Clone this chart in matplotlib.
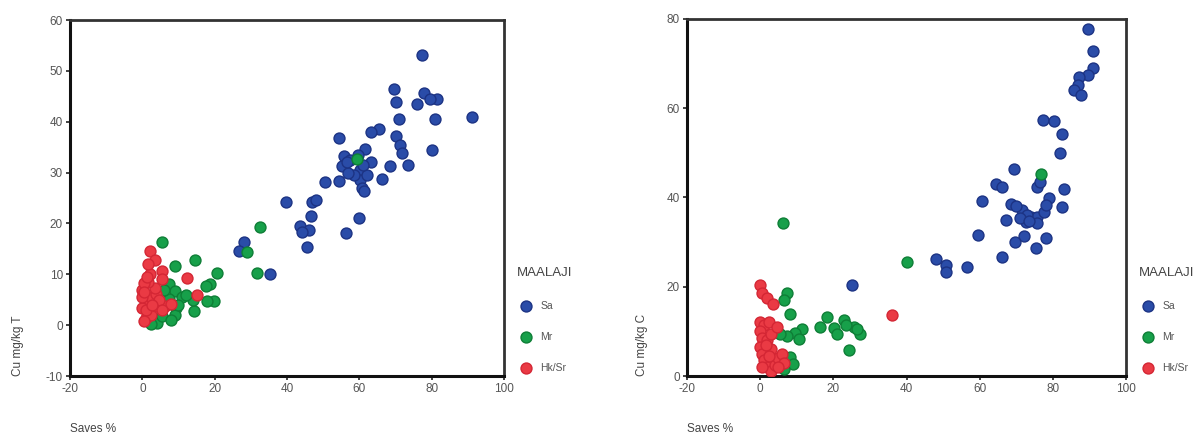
import numpy as np
import matplotlib
matplotlib.use("Agg")
import matplotlib.pyplot as plt

plt.rcParams['font.family'] = ['Liberation Sans', 'DejaVu Sans']
plt.rcParams['axes.unicode_minus'] = False

groups = ["Sa", "Mr", "Hk/Sr"]
colors = {"Sa": "#2a4ca8", "Mr": "#17a04a", "Hk/Sr": "#ea3a44"}
edges = {"Sa": "#1c3384", "Mr": "#0e7e36", "Hk/Sr": "#d42634"}

# Cu mg/kg T vs Saves %
sa_t_x = [77.4, 69.5, 70, 77.8, 76, 81.5, 79.5, 91.2, 80.8, 70.9, 65.4, 63.1, 54.5, 70,
          71.2, 71.8, 80.1, 61.7, 55.7, 57.5, 63.1, 73.5, 68.6, 55.2, 60.3, 66.3, 50.6,
          54.3, 60.3, 60.8, 61.2, 39.6, 46.9, 48, 46.5, 59.8, 43.7, 46, 44.1, 56.2, 45.6,
          28, 26.6, 35.4, 58.5, 57, 62, 59.5, 56.5, 61]
sa_t_y = [53.1, 46.5, 43.9, 45.7, 43.4, 44.4, 44.5, 40.9, 40.5, 40.5, 38.5, 37.9, 36.8, 37.2,
          35.4, 33.9, 34.4, 34.6, 33.3, 32.5, 32.1, 31.4, 31.3, 31.3, 30.6, 28.7, 28.2,
          28.4, 28.6, 27.0, 26.4, 24.2, 24.2, 24.6, 21.5, 21.1, 19.5, 18.8, 18.4, 18.1, 15.4,
          16.3, 14.6, 10, 29.5, 30, 29.5, 33.5, 32, 31.5]
mr_t_x = [59.4, 32.6, 29, 31.7, 5.4, 14.7, 9.1, 20.7, 18.8, 17.7, 19.7, 17.9, 14.2, 13.9,
          9.3, 7.3, 9.1, 6.4, 4.1, 2.3, 5.4, 9.1, 7.3, 11, 8, 6, 12, 10]
mr_t_y = [32.6, 19.2, 14.3, 10.3, 16.3, 12.9, 11.6, 10.3, 8, 7.7, 4.7, 4.7, 2.8, 5,
          3.4, 8, 6.7, 5, 0.5, 0.3, 1.7, 2.0, 5.1, 5.5, 1, 7, 6, 4]
hk_t_x = [2.2, 3.5, 5.4, 12.4, 15.1, 0, 1, 0, 1, 2.3, 3.8, 6.4, 7.9, 2.3, 3.8, 3.5, 1.6,
          5.4, 0.5, 0, 1, 0.5, 2, 1.5, 4.5, 5.5, 0.5, 2.8, 1.2]
hk_t_y = [14.6, 12.9, 10.6, 9.3, 6.0, 7, 5, 3.4, 1.5, 2, 3.8, 3.8, 4.2, 5.6, 6.2, 7.4, 8.5,
          9, 8.2, 5.5, 3, 0.8, 10, 12, 5, 3, 6.5, 4, 9.5]

# Cu mg/kg C vs Saves %
sa_c_x = [89.5, 90.9, 90.9, 89.5, 87.2, 86.8, 85.7, 87.7, 77.2, 80.4, 82.6, 82, 69.4, 75.8,
          64.4, 66.2, 83.1, 79, 82.6, 60.7, 68.5, 71.7, 74, 75.8, 77.6, 72.6, 75.8, 67.1,
          78, 59.5, 72, 69.6, 78.2, 75.5, 66.2, 48.2, 50.7, 56.6, 50.7, 25.1, 73, 71,
          76.5, 73.5, 70]
sa_c_y = [77.7, 72.9, 69.1, 67.4, 67, 65.2, 64.1, 62.9, 57.3, 57.2, 54.2, 50, 46.3, 42.4,
          43.1, 42.4, 41.8, 39.8, 37.9, 39.2, 38.6, 37.2, 35.7, 35.7, 36.8, 34.5, 34.2, 34.9,
          38.3, 31.5, 31.3, 30, 31, 28.7, 26.7, 26.3, 24.8, 24.4, 23.3, 20.3, 36, 35.5,
          43.5, 34.8, 38]
mr_c_x = [76.9, 40.2, 6.2, 7.3, 6.4, 8.2, 18.3, 22.8, 25.6, 16.4, 20.1, 27.4, 21, 24.2,
          11.4, 9.6, 10.5, 8.2, 9.1, 6.4, 7.3, 5.5, 23.5, 26.5]
mr_c_y = [45.2, 25.6, 34.3, 18.5, 17, 14, 13.2, 12.5, 11, 11, 10.7, 9.5, 9.3, 5.8,
          10.6, 9.6, 8.3, 4.3, 2.6, 1.5, 8.9, 9.5, 11.5, 10.5]
hk_c_x = [0, 1, 2.5, 0, 0.5, 0, 0.5, 1, 2, 3, 4, 5, 6, 3, 2, 3, 4.5, 1.5, 2.5, 0.5, 6.5,
          5, 0, 0.5, 2, 3.6, 36.1]
hk_c_y = [12, 11.5, 12, 10, 8.5, 6.5, 5, 3.5, 2, 1.2, 2.5, 4, 5, 6, 8, 9.5, 11, 7, 4.5, 2,
          3, 2, 20.5, 18.5, 17.5, 16.2, 13.6]

panels = [
    ("Cu mg/kg T", (-10, 60), np.arange(-10, 61, 10),
     {"Sa": (sa_t_x, sa_t_y), "Mr": (mr_t_x, mr_t_y), "Hk/Sr": (hk_t_x, hk_t_y)}),
    ("Cu mg/kg C", (0, 80), np.arange(0, 81, 20),
     {"Sa": (sa_c_x, sa_c_y), "Mr": (mr_c_x, mr_c_y), "Hk/Sr": (hk_c_x, hk_c_y)}),
]

W, H = 1201, 436
fig = plt.figure(figsize=(W / 100, H / 100), dpi=100)

# axes boxes in pixels: left, top, right, bottom
boxes = [(70, 20, 504, 376), (687, 19, 1126, 376)]
ylabel_x = [18, 642]
legend_x = [513, 1135]

for (ylab, ylim, yticks, data), (l, t, r, b), yl_x, lg_x in zip(panels, boxes, ylabel_x, legend_x):
    ax = fig.add_axes([l / W, 1 - b / H, (r - l) / W, (b - t) / H])
    for g in groups:
        x, y = data[g]
        ax.scatter(x, y, s=62, c=colors[g], edgecolors=edges[g], linewidths=1.0,
                   label=g, zorder=3)
    ax.set_xlim(-20, 100)
    ax.set_ylim(*ylim)
    ax.set_xticks(np.arange(-20, 101, 20))
    ax.set_yticks(yticks)
    ax.tick_params(direction='out', length=3, width=1.2, color='#222222',
                   labelsize=8.5, labelcolor='#555555', pad=2)
    for side in ['left', 'bottom']:
        ax.spines[side].set_linewidth(2.2)
        ax.spines[side].set_color('#111111')
    for side in ['top', 'right']:
        ax.spines[side].set_linewidth(2.0)
        ax.spines[side].set_color('#333333')

    fig.text(yl_x / W, 1 - b / H, ylab, rotation=90, ha='center', va='bottom',
             fontsize=8.5, color='#444444')
    fig.text(l / W, 1 - 429 / H, "Saves %", ha='left', va='center',
             fontsize=8.5, color='#444444')

    leg = ax.legend(title="MAALAJI", loc='upper left',
                    bbox_to_anchor=(lg_x / W, 1 - 263 / H), bbox_transform=fig.transFigure,
                    frameon=False, fontsize=7.5, title_fontsize=9.5,
                    labelspacing=2.05, handletextpad=0.6, handlelength=1.6,
                    borderaxespad=0, alignment='left', scatterpoints=1)
    leg.get_title().set_color('#444444')
    for txt in leg.get_texts():
        txt.set_color('#555555')

fig.savefig("out.png", dpi=100)
